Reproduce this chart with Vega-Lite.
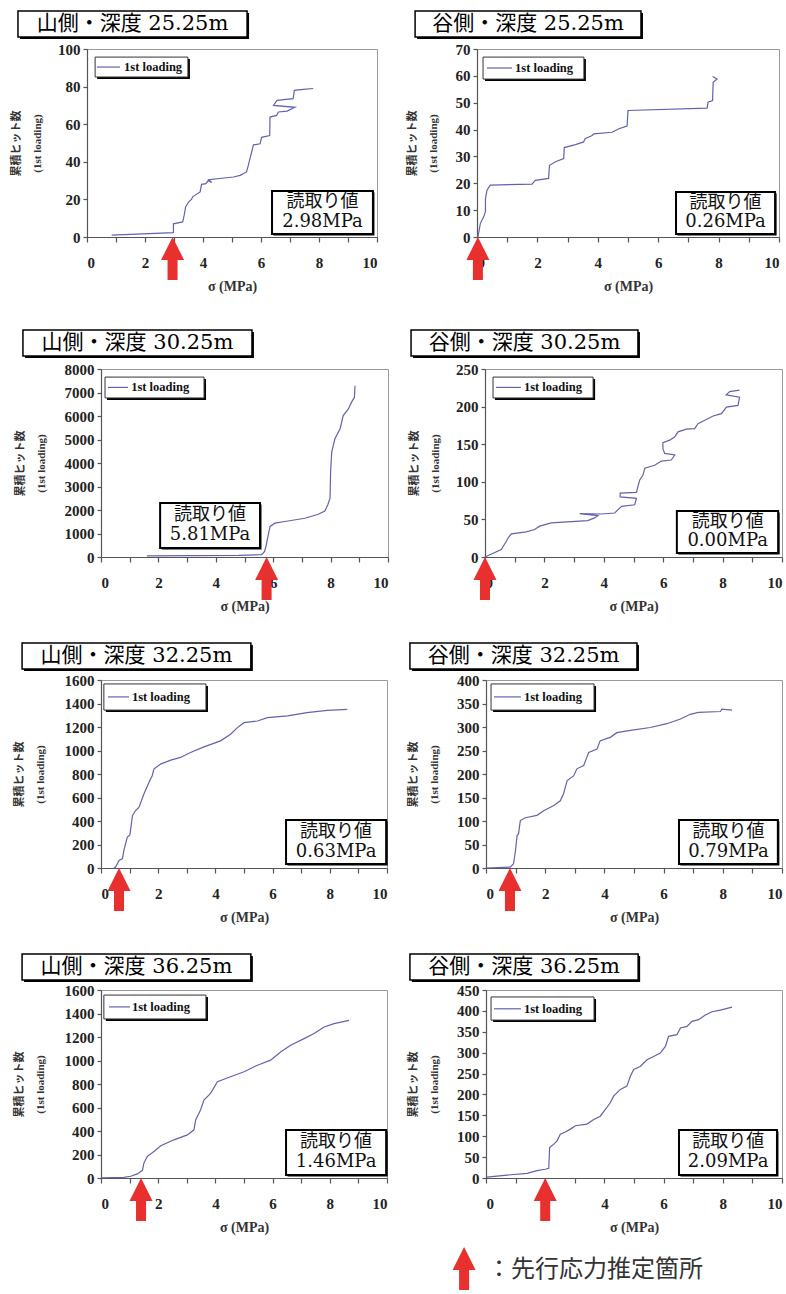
{
"$schema": "https://vega.github.io/schema/vega-lite/v6.json",
"background": "white",
"padding": {"top": 9, "left": 9, "right": 0, "bottom": 0},
"spacing": 34,
"config": {
  "view": {"stroke": "#9a9a9a", "strokeWidth": 1},
  "axis": {"grid": false, "domainColor": "#555", "domainWidth": 1.2, "tickColor": "#555", "tickWidth": 1.2, "labelOverlap": false,
    "labelFont": "Liberation Serif, Times New Roman, serif", "labelFontWeight": "bold", "labelFontSize": 15, "labelColor": "#222",
    "titleFont": "Liberation Serif, Times New Roman, Noto Sans CJK JP, serif", "titleFontWeight": "bold", "titleFontSize": 11, "titleColor": "#333"},
  "axisX": {"tickSize": 5, "labelPadding": 13, "titlePadding": 9, "titleFontSize": 14},
  "axisY": {"tickSize": 4, "labelPadding": 3, "titleLineHeight": 21}
},
"vconcat": [
{"spacing": 26, "hconcat": [
{
 "width": 290, "height": 188,
 "resolve": {"scale": {"x": "independent", "y": "independent"}},
 "layer": [
  {"data": {"values": [
      {"i":0,"s":0.85,"c":1},{"i":1,"s":2.98,"c":2.3},{"i":2,"s":2.98,"c":7},{"i":3,"s":3.3,"c":8},{"i":4,"s":3.35,"c":11.5},{"i":5,"s":3.4,"c":16},{"i":6,"s":3.5,"c":18.6},{"i":7,"s":3.6,"c":20},{"i":8,"s":3.65,"c":21.5},{"i":9,"s":3.9,"c":24},{"i":10,"s":3.95,"c":28},{"i":11,"s":4.1,"c":28.4},{"i":12,"s":4.18,"c":30},{"i":13,"s":4.3,"c":29},{"i":14,"s":4.2,"c":30.5},{"i":15,"s":5.05,"c":31.9},{"i":16,"s":5.28,"c":32.8},{"i":17,"s":5.5,"c":34.6},{"i":18,"s":5.56,"c":38},{"i":19,"s":5.62,"c":41.7},{"i":20,"s":5.74,"c":49},{"i":21,"s":5.97,"c":49.6},{"i":22,"s":6.02,"c":53},{"i":23,"s":6.3,"c":54},{"i":24,"s":6.31,"c":63.8},{"i":25,"s":6.54,"c":64.7},{"i":26,"s":6.6,"c":66.5},{"i":27,"s":6.9,"c":67},{"i":28,"s":7.17,"c":69},{"i":29,"s":6.43,"c":70},{"i":30,"s":6.55,"c":72.7},{"i":31,"s":7.11,"c":73.6},{"i":32,"s":7.15,"c":78},{"i":33,"s":7.46,"c":78.5},{"i":34,"s":7.8,"c":79}
    ]},
   "mark": {"type": "line", "color": "#6262b0", "strokeWidth": 1.2},
   "encoding": {
     "x": {"field": "s", "type": "quantitative", "title": "σ (MPa)", "scale": {"domain": [0,10], "nice": false}, "axis": {"values": [0,1,2,3,4,5,6,7,8,9,10], "labelExpr": "datum.value % 2 === 0 ? datum.label : ''", "labelOverlap": false}},
     "y": {"field": "c", "type": "quantitative", "title": ["累積ヒット数", "(1st loading)"], "scale": {"domain": [0,100], "nice": false}, "axis": {"values": [0,20,40,60,80,100], "format": "d", "titlePadding": 15.5, "labelOverlap": false}},
     "order": {"field": "i", "type": "quantitative"}
   }},
  {"data": {"values": [{"title": "山側・深度 25.25m", "reading": "2.98MPa", "arrow": 2.95}]},
   "layer": [
    {"mark": {"type": "rect", "color": "black", "xOffset": 2, "x2Offset": 2, "yOffset": 2, "y2Offset": 2}, "encoding": {"x": {"datum": -2.38, "type": "quantitative", "scale": {"domain": [0,10]}, "axis": null}, "x2": {"datum": 5.52}, "y": {"datum": 1.064, "type": "quantitative", "scale": {"domain": [0,1]}, "axis": null}, "y2": {"datum": 1.202}}},
    {"mark": {"type": "rect", "fill": "white", "stroke": "black", "strokeWidth": 1.5}, "encoding": {"x": {"datum": -2.38, "type": "quantitative", "scale": {"domain": [0,10]}, "axis": null}, "x2": {"datum": 5.52}, "y": {"datum": 1.064, "type": "quantitative", "scale": {"domain": [0,1]}, "axis": null}, "y2": {"datum": 1.202}}},
    {"mark": {"type": "text", "font": "DejaVu Serif, Noto Sans CJK JP", "fontSize": 21, "color": "black", "align": "center", "baseline": "middle"}, "encoding": {"x": {"datum": 1.57, "type": "quantitative", "scale": {"domain": [0,10]}, "axis": null}, "y": {"datum": 1.133, "type": "quantitative", "scale": {"domain": [0,1]}, "axis": null}, "text": {"field": "title"}}},
    {"mark": {"type": "rect", "color": "black", "xOffset": 2, "x2Offset": 2, "yOffset": 2, "y2Offset": 2}, "encoding": {"x": {"datum": 0.28, "type": "quantitative", "scale": {"domain": [0,10]}, "axis": null}, "x2": {"datum": 3.48}, "y": {"datum": 0.851, "type": "quantitative", "scale": {"domain": [0,1]}, "axis": null}, "y2": {"datum": 0.957}}},
    {"mark": {"type": "rect", "fill": "white", "stroke": "#333", "strokeWidth": 1}, "encoding": {"x": {"datum": 0.28, "type": "quantitative", "scale": {"domain": [0,10]}, "axis": null}, "x2": {"datum": 3.48}, "y": {"datum": 0.851, "type": "quantitative", "scale": {"domain": [0,1]}, "axis": null}, "y2": {"datum": 0.957}}},
    {"mark": {"type": "rule", "color": "#6262b0", "strokeWidth": 1.2}, "encoding": {"x": {"datum": 0.34, "type": "quantitative", "scale": {"domain": [0,10]}, "axis": null}, "x2": {"datum": 1.14}, "y": {"datum": 0.904, "type": "quantitative", "scale": {"domain": [0,1]}, "axis": null}}},
    {"mark": {"type": "text", "text": "1st loading", "font": "Liberation Serif, Times New Roman, serif", "fontWeight": "bold", "fontSize": 12.5, "color": "#111", "align": "left", "baseline": "middle"}, "encoding": {"x": {"datum": 1.28, "type": "quantitative", "scale": {"domain": [0,10]}, "axis": null}, "y": {"datum": 0.904, "type": "quantitative", "scale": {"domain": [0,1]}, "axis": null}}},
    {"mark": {"type": "rect", "color": "black", "xOffset": 1.5, "x2Offset": 1.5, "yOffset": 1.5, "y2Offset": 1.5}, "encoding": {"x": {"datum": 6.38, "type": "quantitative", "scale": {"domain": [0,10]}, "axis": null}, "x2": {"datum": 9.86}, "y": {"datum": 0.016, "type": "quantitative", "scale": {"domain": [0,1]}, "axis": null}, "y2": {"datum": 0.245}}},
    {"mark": {"type": "rect", "fill": "white", "stroke": "black", "strokeWidth": 2}, "encoding": {"x": {"datum": 6.38, "type": "quantitative", "scale": {"domain": [0,10]}, "axis": null}, "x2": {"datum": 9.86}, "y": {"datum": 0.016, "type": "quantitative", "scale": {"domain": [0,1]}, "axis": null}, "y2": {"datum": 0.245}}},
    {"mark": {"type": "text", "text": "読取り値", "font": "DejaVu Serif, Noto Sans CJK JP", "fontSize": 18, "color": "#111", "align": "center", "baseline": "middle"}, "encoding": {"x": {"datum": 8.12, "type": "quantitative", "scale": {"domain": [0,10]}, "axis": null}, "y": {"datum": 0.185, "type": "quantitative", "scale": {"domain": [0,1]}, "axis": null}}},
    {"mark": {"type": "text", "font": "DejaVu Serif, Noto Sans CJK JP", "fontSize": 18, "color": "#111", "align": "center", "baseline": "middle"}, "encoding": {"x": {"datum": 8.12, "type": "quantitative", "scale": {"domain": [0,10]}, "axis": null}, "y": {"datum": 0.080, "type": "quantitative", "scale": {"domain": [0,1]}, "axis": null}, "text": {"field": "reading"}}},
    {"mark": {"type": "point", "shape": "M0,0L0.535,1.07L0.233,1.07L0.233,2L-0.233,2L-0.233,1.07L-0.535,1.07Z", "size": 1849, "filled": true, "color": "#e8302e", "opacity": 1, "strokeWidth": 0}, "encoding": {"x": {"field": "arrow", "type": "quantitative", "scale": {"domain": [0,10]}, "axis": null}, "y": {"datum": 0, "type": "quantitative", "scale": {"domain": [0,1]}, "axis": null}}}
   ]}
 ]
},
{
 "width": 302, "height": 188,
 "resolve": {"scale": {"x": "independent", "y": "independent"}},
 "layer": [
  {"data": {"values": [
      {"i":0,"s":0.03,"c":0},{"i":1,"s":0.11,"c":5},{"i":2,"s":0.22,"c":7.5},{"i":3,"s":0.28,"c":9.4},{"i":4,"s":0.28,"c":14.3},{"i":5,"s":0.33,"c":17.4},{"i":6,"s":0.44,"c":19.3},{"i":7,"s":1.82,"c":19.7},{"i":8,"s":1.93,"c":21.1},{"i":9,"s":2.37,"c":21.8},{"i":10,"s":2.4,"c":26.7},{"i":11,"s":2.6,"c":28},{"i":12,"s":2.87,"c":29.2},{"i":13,"s":2.89,"c":33.3},{"i":14,"s":3.26,"c":34.4},{"i":15,"s":3.53,"c":35.4},{"i":16,"s":3.58,"c":36.6},{"i":17,"s":3.81,"c":37.8},{"i":18,"s":3.87,"c":38.4},{"i":19,"s":4.47,"c":39},{"i":20,"s":4.7,"c":40.3},{"i":21,"s":4.97,"c":41.3},{"i":22,"s":5.0,"c":47.1},{"i":23,"s":7.62,"c":48},{"i":24,"s":7.65,"c":50.2},{"i":25,"s":7.8,"c":50.8},{"i":26,"s":7.82,"c":57.6},{"i":27,"s":7.95,"c":58.8},{"i":28,"s":7.8,"c":59.8}
    ]},
   "mark": {"type": "line", "color": "#6262b0", "strokeWidth": 1.2},
   "encoding": {
     "x": {"field": "s", "type": "quantitative", "title": "σ (MPa)", "scale": {"domain": [0,10], "nice": false}, "axis": {"values": [0,1,2,3,4,5,6,7,8,9,10], "labelExpr": "datum.value % 2 === 0 ? datum.label : ''", "labelOverlap": false}},
     "y": {"field": "c", "type": "quantitative", "title": ["累積ヒット数", "(1st loading)"], "scale": {"domain": [0,70], "nice": false}, "axis": {"values": [0,10,20,30,40,50,60,70], "format": "d", "titlePadding": 17, "labelOverlap": false}},
     "order": {"field": "i", "type": "quantitative"}
   }},
  {"data": {"values": [{"title": "谷側・深度 25.25m", "reading": "0.26MPa", "arrow": 0.03}]},
   "layer": [
    {"mark": {"type": "rect", "color": "black", "xOffset": 2, "x2Offset": 2, "yOffset": 2, "y2Offset": 2}, "encoding": {"x": {"datum": -2.05, "type": "quantitative", "scale": {"domain": [0,10]}, "axis": null}, "x2": {"datum": 5.43}, "y": {"datum": 1.064, "type": "quantitative", "scale": {"domain": [0,1]}, "axis": null}, "y2": {"datum": 1.202}}},
    {"mark": {"type": "rect", "fill": "white", "stroke": "black", "strokeWidth": 1.5}, "encoding": {"x": {"datum": -2.05, "type": "quantitative", "scale": {"domain": [0,10]}, "axis": null}, "x2": {"datum": 5.43}, "y": {"datum": 1.064, "type": "quantitative", "scale": {"domain": [0,1]}, "axis": null}, "y2": {"datum": 1.202}}},
    {"mark": {"type": "text", "font": "DejaVu Serif, Noto Sans CJK JP", "fontSize": 21, "color": "black", "align": "center", "baseline": "middle"}, "encoding": {"x": {"datum": 1.69, "type": "quantitative", "scale": {"domain": [0,10]}, "axis": null}, "y": {"datum": 1.133, "type": "quantitative", "scale": {"domain": [0,1]}, "axis": null}, "text": {"field": "title"}}},
    {"mark": {"type": "rect", "color": "black", "xOffset": 2, "x2Offset": 2, "yOffset": 2, "y2Offset": 2}, "encoding": {"x": {"datum": 0.2, "type": "quantitative", "scale": {"domain": [0,10]}, "axis": null}, "x2": {"datum": 3.54}, "y": {"datum": 0.84, "type": "quantitative", "scale": {"domain": [0,1]}, "axis": null}, "y2": {"datum": 0.957}}},
    {"mark": {"type": "rect", "fill": "white", "stroke": "#333", "strokeWidth": 1}, "encoding": {"x": {"datum": 0.2, "type": "quantitative", "scale": {"domain": [0,10]}, "axis": null}, "x2": {"datum": 3.54}, "y": {"datum": 0.84, "type": "quantitative", "scale": {"domain": [0,1]}, "axis": null}, "y2": {"datum": 0.957}}},
    {"mark": {"type": "rule", "color": "#6262b0", "strokeWidth": 1.2}, "encoding": {"x": {"datum": 0.33, "type": "quantitative", "scale": {"domain": [0,10]}, "axis": null}, "x2": {"datum": 1.16}, "y": {"datum": 0.899, "type": "quantitative", "scale": {"domain": [0,1]}, "axis": null}}},
    {"mark": {"type": "text", "text": "1st loading", "font": "Liberation Serif, Times New Roman, serif", "fontWeight": "bold", "fontSize": 12.5, "color": "#111", "align": "left", "baseline": "middle"}, "encoding": {"x": {"datum": 1.26, "type": "quantitative", "scale": {"domain": [0,10]}, "axis": null}, "y": {"datum": 0.899, "type": "quantitative", "scale": {"domain": [0,1]}, "axis": null}}},
    {"mark": {"type": "rect", "color": "black", "xOffset": 1.5, "x2Offset": 1.5, "yOffset": 1.5, "y2Offset": 1.5}, "encoding": {"x": {"datum": 6.59, "type": "quantitative", "scale": {"domain": [0,10]}, "axis": null}, "x2": {"datum": 9.87}, "y": {"datum": 0.016, "type": "quantitative", "scale": {"domain": [0,1]}, "axis": null}, "y2": {"datum": 0.239}}},
    {"mark": {"type": "rect", "fill": "white", "stroke": "black", "strokeWidth": 2}, "encoding": {"x": {"datum": 6.59, "type": "quantitative", "scale": {"domain": [0,10]}, "axis": null}, "x2": {"datum": 9.87}, "y": {"datum": 0.016, "type": "quantitative", "scale": {"domain": [0,1]}, "axis": null}, "y2": {"datum": 0.239}}},
    {"mark": {"type": "text", "text": "読取り値", "font": "DejaVu Serif, Noto Sans CJK JP", "fontSize": 18, "color": "#111", "align": "center", "baseline": "middle"}, "encoding": {"x": {"datum": 8.23, "type": "quantitative", "scale": {"domain": [0,10]}, "axis": null}, "y": {"datum": 0.181, "type": "quantitative", "scale": {"domain": [0,1]}, "axis": null}}},
    {"mark": {"type": "text", "font": "DejaVu Serif, Noto Sans CJK JP", "fontSize": 18, "color": "#111", "align": "center", "baseline": "middle"}, "encoding": {"x": {"datum": 8.23, "type": "quantitative", "scale": {"domain": [0,10]}, "axis": null}, "y": {"datum": 0.078, "type": "quantitative", "scale": {"domain": [0,1]}, "axis": null}, "text": {"field": "reading"}}},
    {"mark": {"type": "point", "shape": "M0,0L0.535,1.07L0.233,1.07L0.233,2L-0.233,2L-0.233,1.07L-0.535,1.07Z", "size": 1849, "filled": true, "color": "#e8302e", "opacity": 1, "strokeWidth": 0}, "encoding": {"x": {"field": "arrow", "type": "quantitative", "scale": {"domain": [0,10]}, "axis": null}, "y": {"datum": 0, "type": "quantitative", "scale": {"domain": [0,1]}, "axis": null}}}
   ]}
 ]
}
]},
{"spacing": -79, "hconcat": [
{"width": 1, "height": 1, "view": {"stroke": null}, "data": {"values": [{}]}, "mark": {"type": "point", "opacity": 0}, "encoding": {}},
{"spacing": 27, "vconcat": [
{"spacing": 17, "hconcat": [
{
 "width": 287, "height": 188,
 "resolve": {"scale": {"x": "independent", "y": "independent"}},
 "layer": [
  {"data": {"values": [
      {"i":0,"s":1.6,"c":50},{"i":1,"s":4.8,"c":70},{"i":2,"s":5.6,"c":100},{"i":3,"s":5.7,"c":240},{"i":4,"s":5.76,"c":520},{"i":5,"s":5.83,"c":950},{"i":6,"s":5.89,"c":1300},{"i":7,"s":6.06,"c":1440},{"i":8,"s":6.41,"c":1510},{"i":9,"s":7.1,"c":1650},{"i":10,"s":7.57,"c":1820},{"i":11,"s":7.8,"c":1960},{"i":12,"s":7.9,"c":2210},{"i":13,"s":7.98,"c":2500},{"i":14,"s":8.0,"c":3620},{"i":15,"s":8.04,"c":4470},{"i":16,"s":8.15,"c":5030},{"i":17,"s":8.33,"c":5460},{"i":18,"s":8.44,"c":6020},{"i":19,"s":8.62,"c":6300},{"i":20,"s":8.73,"c":6590},{"i":21,"s":8.83,"c":6800},{"i":22,"s":8.85,"c":7290}
    ]},
   "mark": {"type": "line", "color": "#6262b0", "strokeWidth": 1.2},
   "encoding": {
     "x": {"field": "s", "type": "quantitative", "title": "σ (MPa)", "scale": {"domain": [0,10], "nice": false}, "axis": {"values": [0,1,2,3,4,5,6,7,8,9,10], "labelExpr": "datum.value % 2 === 0 ? datum.label : ''", "labelOverlap": false}},
     "y": {"field": "c", "type": "quantitative", "title": ["累積ヒット数", "(1st loading)"], "scale": {"domain": [0,8000], "nice": false}, "axis": {"values": [0,1000,2000,3000,4000,5000,6000,7000,8000], "format": "d", "titlePadding": 18, "labelOverlap": false}},
     "order": {"field": "i", "type": "quantitative"}
   }},
  {"data": {"values": [{"title": "山側・深度 30.25m", "reading": "5.81MPa", "arrow": 5.77}]},
   "layer": [
    {"mark": {"type": "rect", "color": "black", "xOffset": 2, "x2Offset": 2, "yOffset": 2, "y2Offset": 2}, "encoding": {"x": {"datum": -2.72, "type": "quantitative", "scale": {"domain": [0,10]}, "axis": null}, "x2": {"datum": 5.26}, "y": {"datum": 1.069, "type": "quantitative", "scale": {"domain": [0,1]}, "axis": null}, "y2": {"datum": 1.207}}},
    {"mark": {"type": "rect", "fill": "white", "stroke": "black", "strokeWidth": 1.5}, "encoding": {"x": {"datum": -2.72, "type": "quantitative", "scale": {"domain": [0,10]}, "axis": null}, "x2": {"datum": 5.26}, "y": {"datum": 1.069, "type": "quantitative", "scale": {"domain": [0,1]}, "axis": null}, "y2": {"datum": 1.207}}},
    {"mark": {"type": "text", "font": "DejaVu Serif, Noto Sans CJK JP", "fontSize": 21, "color": "black", "align": "center", "baseline": "middle"}, "encoding": {"x": {"datum": 1.27, "type": "quantitative", "scale": {"domain": [0,10]}, "axis": null}, "y": {"datum": 1.138, "type": "quantitative", "scale": {"domain": [0,1]}, "axis": null}, "text": {"field": "title"}}},
    {"mark": {"type": "rect", "color": "black", "xOffset": 2, "x2Offset": 2, "yOffset": 2, "y2Offset": 2}, "encoding": {"x": {"datum": 0.14, "type": "quantitative", "scale": {"domain": [0,10]}, "axis": null}, "x2": {"datum": 3.59}, "y": {"datum": 0.846, "type": "quantitative", "scale": {"domain": [0,1]}, "axis": null}, "y2": {"datum": 0.957}}},
    {"mark": {"type": "rect", "fill": "white", "stroke": "#333", "strokeWidth": 1}, "encoding": {"x": {"datum": 0.14, "type": "quantitative", "scale": {"domain": [0,10]}, "axis": null}, "x2": {"datum": 3.59}, "y": {"datum": 0.846, "type": "quantitative", "scale": {"domain": [0,1]}, "axis": null}, "y2": {"datum": 0.957}}},
    {"mark": {"type": "rule", "color": "#6262b0", "strokeWidth": 1.2}, "encoding": {"x": {"datum": 0.24, "type": "quantitative", "scale": {"domain": [0,10]}, "axis": null}, "x2": {"datum": 0.94}, "y": {"datum": 0.902, "type": "quantitative", "scale": {"domain": [0,1]}, "axis": null}}},
    {"mark": {"type": "text", "text": "1st loading", "font": "Liberation Serif, Times New Roman, serif", "fontWeight": "bold", "fontSize": 12.5, "color": "#111", "align": "left", "baseline": "middle"}, "encoding": {"x": {"datum": 1.05, "type": "quantitative", "scale": {"domain": [0,10]}, "axis": null}, "y": {"datum": 0.902, "type": "quantitative", "scale": {"domain": [0,1]}, "axis": null}}},
    {"mark": {"type": "rect", "color": "black", "xOffset": 1.5, "x2Offset": 1.5, "yOffset": 1.5, "y2Offset": 1.5}, "encoding": {"x": {"datum": 2.06, "type": "quantitative", "scale": {"domain": [0,10]}, "axis": null}, "x2": {"datum": 5.54}, "y": {"datum": 0.048, "type": "quantitative", "scale": {"domain": [0,1]}, "axis": null}, "y2": {"datum": 0.287}}},
    {"mark": {"type": "rect", "fill": "white", "stroke": "black", "strokeWidth": 2}, "encoding": {"x": {"datum": 2.06, "type": "quantitative", "scale": {"domain": [0,10]}, "axis": null}, "x2": {"datum": 5.54}, "y": {"datum": 0.048, "type": "quantitative", "scale": {"domain": [0,1]}, "axis": null}, "y2": {"datum": 0.287}}},
    {"mark": {"type": "text", "text": "読取り値", "font": "DejaVu Serif, Noto Sans CJK JP", "fontSize": 18, "color": "#111", "align": "center", "baseline": "middle"}, "encoding": {"x": {"datum": 3.8, "type": "quantitative", "scale": {"domain": [0,10]}, "axis": null}, "y": {"datum": 0.225, "type": "quantitative", "scale": {"domain": [0,1]}, "axis": null}}},
    {"mark": {"type": "text", "font": "DejaVu Serif, Noto Sans CJK JP", "fontSize": 18, "color": "#111", "align": "center", "baseline": "middle"}, "encoding": {"x": {"datum": 3.8, "type": "quantitative", "scale": {"domain": [0,10]}, "axis": null}, "y": {"datum": 0.115, "type": "quantitative", "scale": {"domain": [0,1]}, "axis": null}, "text": {"field": "reading"}}},
    {"mark": {"type": "point", "shape": "M0,0L0.535,1.07L0.233,1.07L0.233,2L-0.233,2L-0.233,1.07L-0.535,1.07Z", "size": 1849, "filled": true, "color": "#e8302e", "opacity": 1, "strokeWidth": 0}, "encoding": {"x": {"field": "arrow", "type": "quantitative", "scale": {"domain": [0,10]}, "axis": null}, "y": {"datum": 0, "type": "quantitative", "scale": {"domain": [0,1]}, "axis": null}}}
   ]}
 ]
},
{
 "width": 297, "height": 188,
 "resolve": {"scale": {"x": "independent", "y": "independent"}},
 "layer": [
  {"data": {"values": [
      {"i":0,"s":0,"c":0},{"i":1,"s":0.44,"c":8},{"i":2,"s":0.55,"c":10},{"i":3,"s":0.64,"c":16},{"i":4,"s":0.72,"c":21},{"i":5,"s":0.78,"c":25.5},{"i":6,"s":0.89,"c":30.8},{"i":7,"s":1.39,"c":33.5},{"i":8,"s":1.67,"c":36.5},{"i":9,"s":1.84,"c":41},{"i":10,"s":2.23,"c":45.3},{"i":11,"s":3.46,"c":48.4},{"i":12,"s":3.69,"c":52},{"i":13,"s":3.8,"c":55},{"i":14,"s":3.19,"c":57.7},{"i":15,"s":3.92,"c":57.2},{"i":16,"s":4.37,"c":58.5},{"i":17,"s":4.48,"c":63},{"i":18,"s":4.6,"c":67.3},{"i":19,"s":5.04,"c":69.5},{"i":20,"s":5.1,"c":78},{"i":21,"s":4.55,"c":80},{"i":22,"s":4.55,"c":85},{"i":23,"s":5.1,"c":86},{"i":24,"s":5.15,"c":93.8},{"i":25,"s":5.21,"c":102.5},{"i":26,"s":5.32,"c":109},{"i":27,"s":5.38,"c":118},{"i":28,"s":5.71,"c":122},{"i":29,"s":5.94,"c":127.6},{"i":30,"s":6.27,"c":129},{"i":31,"s":6.39,"c":135.6},{"i":32,"s":6.05,"c":137.8},{"i":33,"s":5.99,"c":144},{"i":34,"s":5.99,"c":152},{"i":35,"s":6.22,"c":155.4},{"i":36,"s":6.39,"c":159.8},{"i":37,"s":6.5,"c":166.4},{"i":38,"s":6.78,"c":170},{"i":39,"s":7.06,"c":170.8},{"i":40,"s":7.17,"c":177.4},{"i":41,"s":7.4,"c":181.8},{"i":42,"s":7.68,"c":187.5},{"i":43,"s":7.96,"c":190.6},{"i":44,"s":8.13,"c":199.4},{"i":45,"s":8.52,"c":201.6},{"i":46,"s":8.57,"c":212.6},{"i":47,"s":8.12,"c":215.7},{"i":48,"s":8.24,"c":220},{"i":49,"s":8.57,"c":222}
    ]},
   "mark": {"type": "line", "color": "#6262b0", "strokeWidth": 1.2},
   "encoding": {
     "x": {"field": "s", "type": "quantitative", "title": "σ (MPa)", "scale": {"domain": [0,10], "nice": false}, "axis": {"values": [0,1,2,3,4,5,6,7,8,9,10], "labelExpr": "datum.value % 2 === 0 ? datum.label : ''", "labelOverlap": false}},
     "y": {"field": "c", "type": "quantitative", "title": ["累積ヒット数", "(1st loading)"], "scale": {"domain": [0,250], "nice": false}, "axis": {"values": [0,50,100,150,200,250], "format": "d", "titlePadding": 15.5, "labelOverlap": false}},
     "order": {"field": "i", "type": "quantitative"}
   }},
  {"data": {"values": [{"title": "谷側・深度 30.25m", "reading": "0.00MPa", "arrow": 0.0}]},
   "layer": [
    {"mark": {"type": "rect", "color": "black", "xOffset": 2, "x2Offset": 2, "yOffset": 2, "y2Offset": 2}, "encoding": {"x": {"datum": -2.49, "type": "quantitative", "scale": {"domain": [0,10]}, "axis": null}, "x2": {"datum": 5.15}, "y": {"datum": 1.069, "type": "quantitative", "scale": {"domain": [0,1]}, "axis": null}, "y2": {"datum": 1.207}}},
    {"mark": {"type": "rect", "fill": "white", "stroke": "black", "strokeWidth": 1.5}, "encoding": {"x": {"datum": -2.49, "type": "quantitative", "scale": {"domain": [0,10]}, "axis": null}, "x2": {"datum": 5.15}, "y": {"datum": 1.069, "type": "quantitative", "scale": {"domain": [0,1]}, "axis": null}, "y2": {"datum": 1.207}}},
    {"mark": {"type": "text", "font": "DejaVu Serif, Noto Sans CJK JP", "fontSize": 21, "color": "black", "align": "center", "baseline": "middle"}, "encoding": {"x": {"datum": 1.33, "type": "quantitative", "scale": {"domain": [0,10]}, "axis": null}, "y": {"datum": 1.138, "type": "quantitative", "scale": {"domain": [0,1]}, "axis": null}, "text": {"field": "title"}}},
    {"mark": {"type": "rect", "color": "black", "xOffset": 2, "x2Offset": 2, "yOffset": 2, "y2Offset": 2}, "encoding": {"x": {"datum": 0.27, "type": "quantitative", "scale": {"domain": [0,10]}, "axis": null}, "x2": {"datum": 3.64}, "y": {"datum": 0.846, "type": "quantitative", "scale": {"domain": [0,1]}, "axis": null}, "y2": {"datum": 0.957}}},
    {"mark": {"type": "rect", "fill": "white", "stroke": "#333", "strokeWidth": 1}, "encoding": {"x": {"datum": 0.27, "type": "quantitative", "scale": {"domain": [0,10]}, "axis": null}, "x2": {"datum": 3.64}, "y": {"datum": 0.846, "type": "quantitative", "scale": {"domain": [0,1]}, "axis": null}, "y2": {"datum": 0.957}}},
    {"mark": {"type": "rule", "color": "#6262b0", "strokeWidth": 1.2}, "encoding": {"x": {"datum": 0.37, "type": "quantitative", "scale": {"domain": [0,10]}, "axis": null}, "x2": {"datum": 1.21}, "y": {"datum": 0.902, "type": "quantitative", "scale": {"domain": [0,1]}, "axis": null}}},
    {"mark": {"type": "text", "text": "1st loading", "font": "Liberation Serif, Times New Roman, serif", "fontWeight": "bold", "fontSize": 12.5, "color": "#111", "align": "left", "baseline": "middle"}, "encoding": {"x": {"datum": 1.31, "type": "quantitative", "scale": {"domain": [0,10]}, "axis": null}, "y": {"datum": 0.902, "type": "quantitative", "scale": {"domain": [0,1]}, "axis": null}}},
    {"mark": {"type": "rect", "color": "black", "xOffset": 1.5, "x2Offset": 1.5, "yOffset": 1.5, "y2Offset": 1.5}, "encoding": {"x": {"datum": 6.46, "type": "quantitative", "scale": {"domain": [0,10]}, "axis": null}, "x2": {"datum": 9.87}, "y": {"datum": 0.021, "type": "quantitative", "scale": {"domain": [0,1]}, "axis": null}, "y2": {"datum": 0.245}}},
    {"mark": {"type": "rect", "fill": "white", "stroke": "black", "strokeWidth": 2}, "encoding": {"x": {"datum": 6.46, "type": "quantitative", "scale": {"domain": [0,10]}, "axis": null}, "x2": {"datum": 9.87}, "y": {"datum": 0.021, "type": "quantitative", "scale": {"domain": [0,1]}, "axis": null}, "y2": {"datum": 0.245}}},
    {"mark": {"type": "text", "text": "読取り値", "font": "DejaVu Serif, Noto Sans CJK JP", "fontSize": 18, "color": "#111", "align": "center", "baseline": "middle"}, "encoding": {"x": {"datum": 8.17, "type": "quantitative", "scale": {"domain": [0,10]}, "axis": null}, "y": {"datum": 0.187, "type": "quantitative", "scale": {"domain": [0,1]}, "axis": null}}},
    {"mark": {"type": "text", "font": "DejaVu Serif, Noto Sans CJK JP", "fontSize": 18, "color": "#111", "align": "center", "baseline": "middle"}, "encoding": {"x": {"datum": 8.17, "type": "quantitative", "scale": {"domain": [0,10]}, "axis": null}, "y": {"datum": 0.084, "type": "quantitative", "scale": {"domain": [0,1]}, "axis": null}, "text": {"field": "reading"}}},
    {"mark": {"type": "point", "shape": "M0,0L0.535,1.07L0.233,1.07L0.233,2L-0.233,2L-0.233,1.07L-0.535,1.07Z", "size": 1849, "filled": true, "color": "#e8302e", "opacity": 1, "strokeWidth": 0}, "encoding": {"x": {"field": "arrow", "type": "quantitative", "scale": {"domain": [0,10]}, "axis": null}, "y": {"datum": 0, "type": "quantitative", "scale": {"domain": [0,1]}, "axis": null}}}
   ]}
 ]
}
]},
{"spacing": 17, "hconcat": [
{
 "width": 286, "height": 188,
 "resolve": {"scale": {"x": "independent", "y": "independent"}},
 "layer": [
  {"data": {"values": [
      {"i":0,"s":0.45,"c":0},{"i":1,"s":0.51,"c":8},{"i":2,"s":0.63,"c":65},{"i":3,"s":0.75,"c":80},{"i":4,"s":0.8,"c":150},{"i":5,"s":0.92,"c":263},{"i":6,"s":1.01,"c":282},{"i":7,"s":1.1,"c":446},{"i":8,"s":1.21,"c":489},{"i":9,"s":1.33,"c":517},{"i":10,"s":1.5,"c":630},{"i":11,"s":1.68,"c":729},{"i":12,"s":1.79,"c":785},{"i":13,"s":1.85,"c":842},{"i":14,"s":2.08,"c":884},{"i":15,"s":2.44,"c":918},{"i":16,"s":2.78,"c":941},{"i":17,"s":3.13,"c":983},{"i":18,"s":3.6,"c":1031},{"i":19,"s":4.18,"c":1082},{"i":20,"s":4.53,"c":1138},{"i":21,"s":4.77,"c":1195},{"i":22,"s":5.0,"c":1237},{"i":23,"s":5.47,"c":1251},{"i":24,"s":5.82,"c":1280},{"i":25,"s":6.52,"c":1294},{"i":26,"s":7.2,"c":1322},{"i":27,"s":7.91,"c":1342},{"i":28,"s":8.61,"c":1350}
    ]},
   "mark": {"type": "line", "color": "#6262b0", "strokeWidth": 1.2},
   "encoding": {
     "x": {"field": "s", "type": "quantitative", "title": "σ (MPa)", "scale": {"domain": [0,10], "nice": false}, "axis": {"values": [0,1,2,3,4,5,6,7,8,9,10], "labelExpr": "datum.value % 2 === 0 ? datum.label : ''", "labelOverlap": false}},
     "y": {"field": "c", "type": "quantitative", "title": ["累積ヒット数", "(1st loading)"], "scale": {"domain": [0,1600], "nice": false}, "axis": {"values": [0,200,400,600,800,1000,1200,1400,1600], "format": "d", "titlePadding": 19, "labelOverlap": false}},
     "order": {"field": "i", "type": "quantitative"}
   }},
  {"data": {"values": [{"title": "山側・深度 32.25m", "reading": "0.63MPa", "arrow": 0.63}]},
   "layer": [
    {"mark": {"type": "rect", "color": "black", "xOffset": 2, "x2Offset": 2, "yOffset": 2, "y2Offset": 2}, "encoding": {"x": {"datum": -2.76, "type": "quantitative", "scale": {"domain": [0,10]}, "axis": null}, "x2": {"datum": 5.24}, "y": {"datum": 1.059, "type": "quantitative", "scale": {"domain": [0,1]}, "axis": null}, "y2": {"datum": 1.197}}},
    {"mark": {"type": "rect", "fill": "white", "stroke": "black", "strokeWidth": 1.5}, "encoding": {"x": {"datum": -2.76, "type": "quantitative", "scale": {"domain": [0,10]}, "axis": null}, "x2": {"datum": 5.24}, "y": {"datum": 1.059, "type": "quantitative", "scale": {"domain": [0,1]}, "axis": null}, "y2": {"datum": 1.197}}},
    {"mark": {"type": "text", "font": "DejaVu Serif, Noto Sans CJK JP", "fontSize": 21, "color": "black", "align": "center", "baseline": "middle"}, "encoding": {"x": {"datum": 1.24, "type": "quantitative", "scale": {"domain": [0,10]}, "axis": null}, "y": {"datum": 1.128, "type": "quantitative", "scale": {"domain": [0,1]}, "axis": null}, "text": {"field": "title"}}},
    {"mark": {"type": "rect", "color": "black", "xOffset": 2, "x2Offset": 2, "yOffset": 2, "y2Offset": 2}, "encoding": {"x": {"datum": 0.1, "type": "quantitative", "scale": {"domain": [0,10]}, "axis": null}, "x2": {"datum": 3.67}, "y": {"datum": 0.84, "type": "quantitative", "scale": {"domain": [0,1]}, "axis": null}, "y2": {"datum": 0.979}}},
    {"mark": {"type": "rect", "fill": "white", "stroke": "#333", "strokeWidth": 1}, "encoding": {"x": {"datum": 0.1, "type": "quantitative", "scale": {"domain": [0,10]}, "axis": null}, "x2": {"datum": 3.67}, "y": {"datum": 0.84, "type": "quantitative", "scale": {"domain": [0,1]}, "axis": null}, "y2": {"datum": 0.979}}},
    {"mark": {"type": "rule", "color": "#6262b0", "strokeWidth": 1.2}, "encoding": {"x": {"datum": 0.24, "type": "quantitative", "scale": {"domain": [0,10]}, "axis": null}, "x2": {"datum": 0.98}, "y": {"datum": 0.91, "type": "quantitative", "scale": {"domain": [0,1]}, "axis": null}}},
    {"mark": {"type": "text", "text": "1st loading", "font": "Liberation Serif, Times New Roman, serif", "fontWeight": "bold", "fontSize": 12.5, "color": "#111", "align": "left", "baseline": "middle"}, "encoding": {"x": {"datum": 1.08, "type": "quantitative", "scale": {"domain": [0,10]}, "axis": null}, "y": {"datum": 0.91, "type": "quantitative", "scale": {"domain": [0,1]}, "axis": null}}},
    {"mark": {"type": "rect", "color": "black", "xOffset": 1.5, "x2Offset": 1.5, "yOffset": 1.5, "y2Offset": 1.5}, "encoding": {"x": {"datum": 6.47, "type": "quantitative", "scale": {"domain": [0,10]}, "axis": null}, "x2": {"datum": 9.97}, "y": {"datum": 0.021, "type": "quantitative", "scale": {"domain": [0,1]}, "axis": null}, "y2": {"datum": 0.255}}},
    {"mark": {"type": "rect", "fill": "white", "stroke": "black", "strokeWidth": 2}, "encoding": {"x": {"datum": 6.47, "type": "quantitative", "scale": {"domain": [0,10]}, "axis": null}, "x2": {"datum": 9.97}, "y": {"datum": 0.021, "type": "quantitative", "scale": {"domain": [0,1]}, "axis": null}, "y2": {"datum": 0.255}}},
    {"mark": {"type": "text", "text": "読取り値", "font": "DejaVu Serif, Noto Sans CJK JP", "fontSize": 18, "color": "#111", "align": "center", "baseline": "middle"}, "encoding": {"x": {"datum": 8.22, "type": "quantitative", "scale": {"domain": [0,10]}, "axis": null}, "y": {"datum": 0.194, "type": "quantitative", "scale": {"domain": [0,1]}, "axis": null}}},
    {"mark": {"type": "text", "font": "DejaVu Serif, Noto Sans CJK JP", "fontSize": 18, "color": "#111", "align": "center", "baseline": "middle"}, "encoding": {"x": {"datum": 8.22, "type": "quantitative", "scale": {"domain": [0,10]}, "axis": null}, "y": {"datum": 0.087, "type": "quantitative", "scale": {"domain": [0,1]}, "axis": null}, "text": {"field": "reading"}}},
    {"mark": {"type": "point", "shape": "M0,0L0.535,1.07L0.233,1.07L0.233,2L-0.233,2L-0.233,1.07L-0.535,1.07Z", "size": 1849, "filled": true, "color": "#e8302e", "opacity": 1, "strokeWidth": 0}, "encoding": {"x": {"field": "arrow", "type": "quantitative", "scale": {"domain": [0,10]}, "axis": null}, "y": {"datum": 0, "type": "quantitative", "scale": {"domain": [0,1]}, "axis": null}}}
   ]}
 ]
},
{
 "width": 296, "height": 188,
 "resolve": {"scale": {"x": "independent", "y": "independent"}},
 "layer": [
  {"data": {"values": [
      {"i":0,"s":0,"c":0},{"i":1,"s":0.82,"c":2},{"i":2,"s":0.93,"c":9},{"i":3,"s":0.99,"c":34},{"i":4,"s":1.05,"c":69},{"i":5,"s":1.1,"c":73},{"i":6,"s":1.16,"c":101},{"i":7,"s":1.33,"c":107},{"i":8,"s":1.72,"c":112},{"i":9,"s":1.95,"c":122},{"i":10,"s":2.29,"c":133},{"i":11,"s":2.51,"c":143},{"i":12,"s":2.62,"c":158},{"i":13,"s":2.74,"c":186},{"i":14,"s":2.96,"c":196},{"i":15,"s":3.07,"c":211},{"i":16,"s":3.3,"c":218},{"i":17,"s":3.47,"c":246},{"i":18,"s":3.75,"c":253},{"i":19,"s":3.86,"c":271},{"i":20,"s":4.2,"c":278},{"i":21,"s":4.42,"c":288},{"i":22,"s":4.88,"c":293},{"i":23,"s":5.55,"c":299},{"i":24,"s":6.11,"c":307},{"i":25,"s":6.57,"c":317},{"i":26,"s":6.9,"c":327},{"i":27,"s":7.18,"c":331},{"i":28,"s":7.92,"c":333},{"i":29,"s":7.97,"c":338},{"i":30,"s":8.31,"c":336}
    ]},
   "mark": {"type": "line", "color": "#6262b0", "strokeWidth": 1.2},
   "encoding": {
     "x": {"field": "s", "type": "quantitative", "title": "σ (MPa)", "scale": {"domain": [0,10], "nice": false}, "axis": {"values": [0,1,2,3,4,5,6,7,8,9,10], "labelExpr": "datum.value % 2 === 0 ? datum.label : ''", "labelOverlap": false}},
     "y": {"field": "c", "type": "quantitative", "title": ["累積ヒット数", "(1st loading)"], "scale": {"domain": [0,400], "nice": false}, "axis": {"values": [0,50,100,150,200,250,300,350,400], "format": "d", "titlePadding": 17.5, "labelOverlap": false}},
     "order": {"field": "i", "type": "quantitative"}
   }},
  {"data": {"values": [{"title": "谷側・深度 32.25m", "reading": "0.79MPa", "arrow": 0.81}]},
   "layer": [
    {"mark": {"type": "rect", "color": "black", "xOffset": 2, "x2Offset": 2, "yOffset": 2, "y2Offset": 2}, "encoding": {"x": {"datum": -2.57, "type": "quantitative", "scale": {"domain": [0,10]}, "axis": null}, "x2": {"datum": 5.1}, "y": {"datum": 1.059, "type": "quantitative", "scale": {"domain": [0,1]}, "axis": null}, "y2": {"datum": 1.197}}},
    {"mark": {"type": "rect", "fill": "white", "stroke": "black", "strokeWidth": 1.5}, "encoding": {"x": {"datum": -2.57, "type": "quantitative", "scale": {"domain": [0,10]}, "axis": null}, "x2": {"datum": 5.1}, "y": {"datum": 1.059, "type": "quantitative", "scale": {"domain": [0,1]}, "axis": null}, "y2": {"datum": 1.197}}},
    {"mark": {"type": "text", "font": "DejaVu Serif, Noto Sans CJK JP", "fontSize": 21, "color": "black", "align": "center", "baseline": "middle"}, "encoding": {"x": {"datum": 1.27, "type": "quantitative", "scale": {"domain": [0,10]}, "axis": null}, "y": {"datum": 1.128, "type": "quantitative", "scale": {"domain": [0,1]}, "axis": null}, "text": {"field": "title"}}},
    {"mark": {"type": "rect", "color": "black", "xOffset": 2, "x2Offset": 2, "yOffset": 2, "y2Offset": 2}, "encoding": {"x": {"datum": 0.17, "type": "quantitative", "scale": {"domain": [0,10]}, "axis": null}, "x2": {"datum": 3.65}, "y": {"datum": 0.84, "type": "quantitative", "scale": {"domain": [0,1]}, "axis": null}, "y2": {"datum": 0.979}}},
    {"mark": {"type": "rect", "fill": "white", "stroke": "#333", "strokeWidth": 1}, "encoding": {"x": {"datum": 0.17, "type": "quantitative", "scale": {"domain": [0,10]}, "axis": null}, "x2": {"datum": 3.65}, "y": {"datum": 0.84, "type": "quantitative", "scale": {"domain": [0,1]}, "axis": null}, "y2": {"datum": 0.979}}},
    {"mark": {"type": "rule", "color": "#6262b0", "strokeWidth": 1.2}, "encoding": {"x": {"datum": 0.27, "type": "quantitative", "scale": {"domain": [0,10]}, "axis": null}, "x2": {"datum": 1.18}, "y": {"datum": 0.91, "type": "quantitative", "scale": {"domain": [0,1]}, "axis": null}}},
    {"mark": {"type": "text", "text": "1st loading", "font": "Liberation Serif, Times New Roman, serif", "fontWeight": "bold", "fontSize": 12.5, "color": "#111", "align": "left", "baseline": "middle"}, "encoding": {"x": {"datum": 1.28, "type": "quantitative", "scale": {"domain": [0,10]}, "axis": null}, "y": {"datum": 0.91, "type": "quantitative", "scale": {"domain": [0,1]}, "axis": null}}},
    {"mark": {"type": "rect", "color": "black", "xOffset": 1.5, "x2Offset": 1.5, "yOffset": 1.5, "y2Offset": 1.5}, "encoding": {"x": {"datum": 6.52, "type": "quantitative", "scale": {"domain": [0,10]}, "axis": null}, "x2": {"datum": 9.86}, "y": {"datum": 0.021, "type": "quantitative", "scale": {"domain": [0,1]}, "axis": null}, "y2": {"datum": 0.255}}},
    {"mark": {"type": "rect", "fill": "white", "stroke": "black", "strokeWidth": 2}, "encoding": {"x": {"datum": 6.52, "type": "quantitative", "scale": {"domain": [0,10]}, "axis": null}, "x2": {"datum": 9.86}, "y": {"datum": 0.021, "type": "quantitative", "scale": {"domain": [0,1]}, "axis": null}, "y2": {"datum": 0.255}}},
    {"mark": {"type": "text", "text": "読取り値", "font": "DejaVu Serif, Noto Sans CJK JP", "fontSize": 18, "color": "#111", "align": "center", "baseline": "middle"}, "encoding": {"x": {"datum": 8.19, "type": "quantitative", "scale": {"domain": [0,10]}, "axis": null}, "y": {"datum": 0.194, "type": "quantitative", "scale": {"domain": [0,1]}, "axis": null}}},
    {"mark": {"type": "text", "font": "DejaVu Serif, Noto Sans CJK JP", "fontSize": 18, "color": "#111", "align": "center", "baseline": "middle"}, "encoding": {"x": {"datum": 8.19, "type": "quantitative", "scale": {"domain": [0,10]}, "axis": null}, "y": {"datum": 0.087, "type": "quantitative", "scale": {"domain": [0,1]}, "axis": null}, "text": {"field": "reading"}}},
    {"mark": {"type": "point", "shape": "M0,0L0.535,1.07L0.233,1.07L0.233,2L-0.233,2L-0.233,1.07L-0.535,1.07Z", "size": 1849, "filled": true, "color": "#e8302e", "opacity": 1, "strokeWidth": 0}, "encoding": {"x": {"field": "arrow", "type": "quantitative", "scale": {"domain": [0,10]}, "axis": null}, "y": {"datum": 0, "type": "quantitative", "scale": {"domain": [0,1]}, "axis": null}}}
   ]}
 ]
}
]},
{"spacing": 17, "hconcat": [
{
 "width": 286, "height": 188,
 "resolve": {"scale": {"x": "independent", "y": "independent"}},
 "layer": [
  {"data": {"values": [
      {"i":0,"s":0,"c":2},{"i":1,"s":0.8,"c":6},{"i":2,"s":1.04,"c":15},{"i":3,"s":1.27,"c":35},{"i":4,"s":1.45,"c":65},{"i":5,"s":1.5,"c":127},{"i":6,"s":1.62,"c":184},{"i":7,"s":1.85,"c":226},{"i":8,"s":2.09,"c":274},{"i":9,"s":2.55,"c":325},{"i":10,"s":3.02,"c":367},{"i":11,"s":3.25,"c":410},{"i":12,"s":3.31,"c":494},{"i":13,"s":3.48,"c":579},{"i":14,"s":3.6,"c":664},{"i":15,"s":3.83,"c":720},{"i":16,"s":4.07,"c":819},{"i":17,"s":4.53,"c":862},{"i":18,"s":5.0,"c":904},{"i":19,"s":5.47,"c":960},{"i":20,"s":5.93,"c":1003},{"i":21,"s":6.28,"c":1073},{"i":22,"s":6.63,"c":1130},{"i":23,"s":7.1,"c":1186},{"i":24,"s":7.45,"c":1229},{"i":25,"s":7.8,"c":1285},{"i":26,"s":8.15,"c":1314},{"i":27,"s":8.67,"c":1342}
    ]},
   "mark": {"type": "line", "color": "#6262b0", "strokeWidth": 1.2},
   "encoding": {
     "x": {"field": "s", "type": "quantitative", "title": "σ (MPa)", "scale": {"domain": [0,10], "nice": false}, "axis": {"values": [0,1,2,3,4,5,6,7,8,9,10], "labelExpr": "datum.value % 2 === 0 ? datum.label : ''", "labelOverlap": false}},
     "y": {"field": "c", "type": "quantitative", "title": ["累積ヒット数", "(1st loading)"], "scale": {"domain": [0,1600], "nice": false}, "axis": {"values": [0,200,400,600,800,1000,1200,1400,1600], "format": "d", "titlePadding": 19, "labelOverlap": false}},
     "order": {"field": "i", "type": "quantitative"}
   }},
  {"data": {"values": [{"title": "山側・深度 36.25m", "reading": "1.46MPa", "arrow": 1.4}]},
   "layer": [
    {"mark": {"type": "rect", "color": "black", "xOffset": 2, "x2Offset": 2, "yOffset": 2, "y2Offset": 2}, "encoding": {"x": {"datum": -2.76, "type": "quantitative", "scale": {"domain": [0,10]}, "axis": null}, "x2": {"datum": 5.24}, "y": {"datum": 1.053, "type": "quantitative", "scale": {"domain": [0,1]}, "axis": null}, "y2": {"datum": 1.191}}},
    {"mark": {"type": "rect", "fill": "white", "stroke": "black", "strokeWidth": 1.5}, "encoding": {"x": {"datum": -2.76, "type": "quantitative", "scale": {"domain": [0,10]}, "axis": null}, "x2": {"datum": 5.24}, "y": {"datum": 1.053, "type": "quantitative", "scale": {"domain": [0,1]}, "axis": null}, "y2": {"datum": 1.191}}},
    {"mark": {"type": "text", "font": "DejaVu Serif, Noto Sans CJK JP", "fontSize": 21, "color": "black", "align": "center", "baseline": "middle"}, "encoding": {"x": {"datum": 1.24, "type": "quantitative", "scale": {"domain": [0,10]}, "axis": null}, "y": {"datum": 1.122, "type": "quantitative", "scale": {"domain": [0,1]}, "axis": null}, "text": {"field": "title"}}},
    {"mark": {"type": "rect", "color": "black", "xOffset": 2, "x2Offset": 2, "yOffset": 2, "y2Offset": 2}, "encoding": {"x": {"datum": 0.1, "type": "quantitative", "scale": {"domain": [0,10]}, "axis": null}, "x2": {"datum": 3.67}, "y": {"datum": 0.846, "type": "quantitative", "scale": {"domain": [0,1]}, "axis": null}, "y2": {"datum": 0.973}}},
    {"mark": {"type": "rect", "fill": "white", "stroke": "#333", "strokeWidth": 1}, "encoding": {"x": {"datum": 0.1, "type": "quantitative", "scale": {"domain": [0,10]}, "axis": null}, "x2": {"datum": 3.67}, "y": {"datum": 0.846, "type": "quantitative", "scale": {"domain": [0,1]}, "axis": null}, "y2": {"datum": 0.973}}},
    {"mark": {"type": "rule", "color": "#6262b0", "strokeWidth": 1.2}, "encoding": {"x": {"datum": 0.28, "type": "quantitative", "scale": {"domain": [0,10]}, "axis": null}, "x2": {"datum": 1.01}, "y": {"datum": 0.91, "type": "quantitative", "scale": {"domain": [0,1]}, "axis": null}}},
    {"mark": {"type": "text", "text": "1st loading", "font": "Liberation Serif, Times New Roman, serif", "fontWeight": "bold", "fontSize": 12.5, "color": "#111", "align": "left", "baseline": "middle"}, "encoding": {"x": {"datum": 1.08, "type": "quantitative", "scale": {"domain": [0,10]}, "axis": null}, "y": {"datum": 0.91, "type": "quantitative", "scale": {"domain": [0,1]}, "axis": null}}},
    {"mark": {"type": "rect", "color": "black", "xOffset": 1.5, "x2Offset": 1.5, "yOffset": 1.5, "y2Offset": 1.5}, "encoding": {"x": {"datum": 6.47, "type": "quantitative", "scale": {"domain": [0,10]}, "axis": null}, "x2": {"datum": 9.97}, "y": {"datum": 0.016, "type": "quantitative", "scale": {"domain": [0,1]}, "axis": null}, "y2": {"datum": 0.255}}},
    {"mark": {"type": "rect", "fill": "white", "stroke": "black", "strokeWidth": 2}, "encoding": {"x": {"datum": 6.47, "type": "quantitative", "scale": {"domain": [0,10]}, "axis": null}, "x2": {"datum": 9.97}, "y": {"datum": 0.016, "type": "quantitative", "scale": {"domain": [0,1]}, "axis": null}, "y2": {"datum": 0.255}}},
    {"mark": {"type": "text", "text": "読取り値", "font": "DejaVu Serif, Noto Sans CJK JP", "fontSize": 18, "color": "#111", "align": "center", "baseline": "middle"}, "encoding": {"x": {"datum": 8.22, "type": "quantitative", "scale": {"domain": [0,10]}, "axis": null}, "y": {"datum": 0.193, "type": "quantitative", "scale": {"domain": [0,1]}, "axis": null}}},
    {"mark": {"type": "text", "font": "DejaVu Serif, Noto Sans CJK JP", "fontSize": 18, "color": "#111", "align": "center", "baseline": "middle"}, "encoding": {"x": {"datum": 8.22, "type": "quantitative", "scale": {"domain": [0,10]}, "axis": null}, "y": {"datum": 0.083, "type": "quantitative", "scale": {"domain": [0,1]}, "axis": null}, "text": {"field": "reading"}}},
    {"mark": {"type": "point", "shape": "M0,0L0.535,1.07L0.233,1.07L0.233,2L-0.233,2L-0.233,1.07L-0.535,1.07Z", "size": 1849, "filled": true, "color": "#e8302e", "opacity": 1, "strokeWidth": 0}, "encoding": {"x": {"field": "arrow", "type": "quantitative", "scale": {"domain": [0,10]}, "axis": null}, "y": {"datum": 0, "type": "quantitative", "scale": {"domain": [0,1]}, "axis": null}}}
   ]}
 ]
},
{
 "width": 296, "height": 188,
 "resolve": {"scale": {"x": "independent", "y": "independent"}},
 "layer": [
  {"data": {"values": [
      {"i":0,"s":0.03,"c":2},{"i":1,"s":0.71,"c":7},{"i":2,"s":1.39,"c":11},{"i":3,"s":1.72,"c":17.5},{"i":4,"s":2.0,"c":21},{"i":5,"s":2.12,"c":23},{"i":6,"s":2.15,"c":73},{"i":7,"s":2.29,"c":81},{"i":8,"s":2.4,"c":89},{"i":9,"s":2.51,"c":105},{"i":10,"s":2.68,"c":110},{"i":11,"s":2.85,"c":117},{"i":12,"s":3.02,"c":125},{"i":13,"s":3.41,"c":129},{"i":14,"s":3.64,"c":140},{"i":15,"s":3.86,"c":148},{"i":16,"s":4.2,"c":180},{"i":17,"s":4.31,"c":196},{"i":18,"s":4.54,"c":212},{"i":19,"s":4.76,"c":220},{"i":20,"s":4.88,"c":244},{"i":21,"s":4.99,"c":260},{"i":22,"s":5.21,"c":267},{"i":23,"s":5.44,"c":283},{"i":24,"s":5.66,"c":291},{"i":25,"s":5.89,"c":299},{"i":26,"s":6.06,"c":315},{"i":27,"s":6.17,"c":339},{"i":28,"s":6.45,"c":343},{"i":29,"s":6.57,"c":359},{"i":30,"s":6.79,"c":363},{"i":31,"s":6.96,"c":375},{"i":32,"s":7.18,"c":379},{"i":33,"s":7.41,"c":390},{"i":34,"s":7.64,"c":398},{"i":35,"s":7.92,"c":402},{"i":36,"s":8.31,"c":409}
    ]},
   "mark": {"type": "line", "color": "#6262b0", "strokeWidth": 1.2},
   "encoding": {
     "x": {"field": "s", "type": "quantitative", "title": "σ (MPa)", "scale": {"domain": [0,10], "nice": false}, "axis": {"values": [0,1,2,3,4,5,6,7,8,9,10], "labelExpr": "datum.value % 2 === 0 ? datum.label : ''", "labelOverlap": false}},
     "y": {"field": "c", "type": "quantitative", "title": ["累積ヒット数", "(1st loading)"], "scale": {"domain": [0,450], "nice": false}, "axis": {"values": [0,50,100,150,200,250,300,350,400,450], "format": "d", "titlePadding": 17.5, "labelOverlap": false}},
     "order": {"field": "i", "type": "quantitative"}
   }},
  {"data": {"values": [{"title": "谷側・深度 36.25m", "reading": "2.09MPa", "arrow": 2.0}]},
   "layer": [
    {"mark": {"type": "rect", "color": "black", "xOffset": 2, "x2Offset": 2, "yOffset": 2, "y2Offset": 2}, "encoding": {"x": {"datum": -2.57, "type": "quantitative", "scale": {"domain": [0,10]}, "axis": null}, "x2": {"datum": 5.14}, "y": {"datum": 1.053, "type": "quantitative", "scale": {"domain": [0,1]}, "axis": null}, "y2": {"datum": 1.191}}},
    {"mark": {"type": "rect", "fill": "white", "stroke": "black", "strokeWidth": 1.5}, "encoding": {"x": {"datum": -2.57, "type": "quantitative", "scale": {"domain": [0,10]}, "axis": null}, "x2": {"datum": 5.14}, "y": {"datum": 1.053, "type": "quantitative", "scale": {"domain": [0,1]}, "axis": null}, "y2": {"datum": 1.191}}},
    {"mark": {"type": "text", "font": "DejaVu Serif, Noto Sans CJK JP", "fontSize": 21, "color": "black", "align": "center", "baseline": "middle"}, "encoding": {"x": {"datum": 1.29, "type": "quantitative", "scale": {"domain": [0,10]}, "axis": null}, "y": {"datum": 1.122, "type": "quantitative", "scale": {"domain": [0,1]}, "axis": null}, "text": {"field": "title"}}},
    {"mark": {"type": "rect", "color": "black", "xOffset": 2, "x2Offset": 2, "yOffset": 2, "y2Offset": 2}, "encoding": {"x": {"datum": 0.17, "type": "quantitative", "scale": {"domain": [0,10]}, "axis": null}, "x2": {"datum": 3.65}, "y": {"datum": 0.84, "type": "quantitative", "scale": {"domain": [0,1]}, "axis": null}, "y2": {"datum": 0.963}}},
    {"mark": {"type": "rect", "fill": "white", "stroke": "#333", "strokeWidth": 1}, "encoding": {"x": {"datum": 0.17, "type": "quantitative", "scale": {"domain": [0,10]}, "axis": null}, "x2": {"datum": 3.65}, "y": {"datum": 0.84, "type": "quantitative", "scale": {"domain": [0,1]}, "axis": null}, "y2": {"datum": 0.963}}},
    {"mark": {"type": "rule", "color": "#6262b0", "strokeWidth": 1.2}, "encoding": {"x": {"datum": 0.27, "type": "quantitative", "scale": {"domain": [0,10]}, "axis": null}, "x2": {"datum": 1.18}, "y": {"datum": 0.90, "type": "quantitative", "scale": {"domain": [0,1]}, "axis": null}}},
    {"mark": {"type": "text", "text": "1st loading", "font": "Liberation Serif, Times New Roman, serif", "fontWeight": "bold", "fontSize": 12.5, "color": "#111", "align": "left", "baseline": "middle"}, "encoding": {"x": {"datum": 1.28, "type": "quantitative", "scale": {"domain": [0,10]}, "axis": null}, "y": {"datum": 0.90, "type": "quantitative", "scale": {"domain": [0,1]}, "axis": null}}},
    {"mark": {"type": "rect", "color": "black", "xOffset": 1.5, "x2Offset": 1.5, "yOffset": 1.5, "y2Offset": 1.5}, "encoding": {"x": {"datum": 6.52, "type": "quantitative", "scale": {"domain": [0,10]}, "axis": null}, "x2": {"datum": 9.83}, "y": {"datum": 0.016, "type": "quantitative", "scale": {"domain": [0,1]}, "axis": null}, "y2": {"datum": 0.255}}},
    {"mark": {"type": "rect", "fill": "white", "stroke": "black", "strokeWidth": 2}, "encoding": {"x": {"datum": 6.52, "type": "quantitative", "scale": {"domain": [0,10]}, "axis": null}, "x2": {"datum": 9.83}, "y": {"datum": 0.016, "type": "quantitative", "scale": {"domain": [0,1]}, "axis": null}, "y2": {"datum": 0.255}}},
    {"mark": {"type": "text", "text": "読取り値", "font": "DejaVu Serif, Noto Sans CJK JP", "fontSize": 18, "color": "#111", "align": "center", "baseline": "middle"}, "encoding": {"x": {"datum": 8.18, "type": "quantitative", "scale": {"domain": [0,10]}, "axis": null}, "y": {"datum": 0.193, "type": "quantitative", "scale": {"domain": [0,1]}, "axis": null}}},
    {"mark": {"type": "text", "font": "DejaVu Serif, Noto Sans CJK JP", "fontSize": 18, "color": "#111", "align": "center", "baseline": "middle"}, "encoding": {"x": {"datum": 8.18, "type": "quantitative", "scale": {"domain": [0,10]}, "axis": null}, "y": {"datum": 0.083, "type": "quantitative", "scale": {"domain": [0,1]}, "axis": null}, "text": {"field": "reading"}}},
    {"mark": {"type": "point", "shape": "M0,0L0.535,1.07L0.233,1.07L0.233,2L-0.233,2L-0.233,1.07L-0.535,1.07Z", "size": 1849, "filled": true, "color": "#e8302e", "opacity": 1, "strokeWidth": 0}, "encoding": {"x": {"field": "arrow", "type": "quantitative", "scale": {"domain": [0,10]}, "axis": null}, "y": {"datum": 0, "type": "quantitative", "scale": {"domain": [0,1]}, "axis": null}}},
    {"mark": {"type": "point", "shape": "M0,0L0.535,1.07L0.233,1.07L0.233,2L-0.233,2L-0.233,1.07L-0.535,1.07Z", "size": 1849, "filled": true, "color": "#e8302e", "opacity": 1, "strokeWidth": 0}, "encoding": {"x": {"datum": -0.74, "type": "quantitative", "scale": {"domain": [0,10]}, "axis": null}, "y": {"datum": -0.367, "type": "quantitative", "scale": {"domain": [0,1]}, "axis": null}}},
    {"mark": {"type": "text", "text": "：先行応力推定箇所", "font": "Noto Sans CJK JP", "fontSize": 24, "color": "#333", "align": "left", "baseline": "middle"}, "encoding": {"x": {"datum": 0.03, "type": "quantitative", "scale": {"domain": [0,10]}, "axis": null}, "y": {"datum": -0.49, "type": "quantitative", "scale": {"domain": [0,1]}, "axis": null}}}
   ]}
 ]
}
]}
]}
]}
]
}
